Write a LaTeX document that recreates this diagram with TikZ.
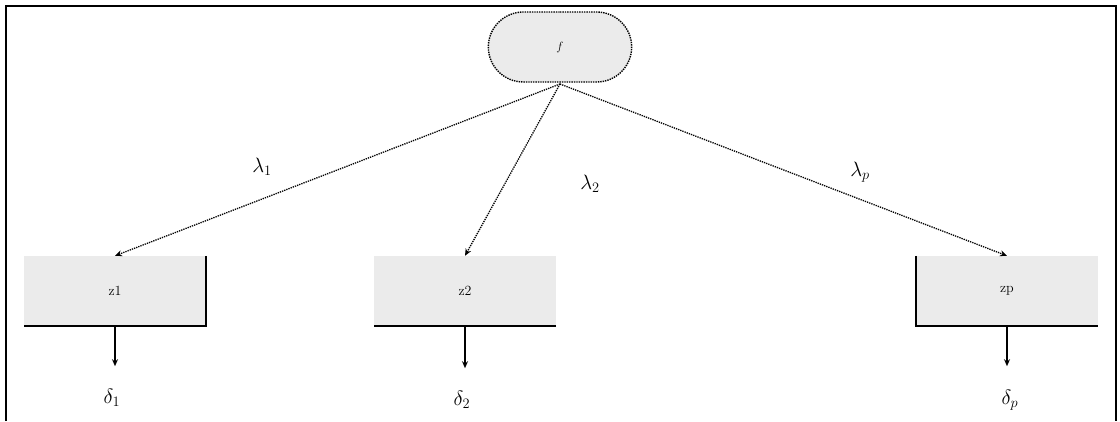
\documentclass[tikz,border=0pt]{standalone}
\usetikzlibrary{arrows.meta,shapes.misc}
\begin{document}
\begin{tikzpicture}[x=1pt,y=-1pt,
  frame/.style={line width=1.2pt},
  factor/.style={rounded rectangle, draw, densely dotted, line width=1.4pt, fill=black!8, minimum width=150pt, minimum height=70pt, font=\fontsize{12}{13}\selectfont},
  obsbox/.style={fill=black!8, minimum width=182pt, minimum height=70pt, inner sep=0pt, font=\fontsize{14}{15}\selectfont},
  load/.style={densely dotted, line width=1.3pt, -{Stealth[length=7pt,width=6pt]}},
  err/.style={line width=1.2pt, -{Stealth[length=7pt,width=6pt]}},
  lbl/.style={font=\fontsize{22}{24}\selectfont},
  edge/.style={line width=1.6pt}]
\useasboundingbox (0,0) rectangle (1120,421);
\draw[frame] (6,421) -- (6,6) -- (1116,6) -- (1116,421);

\node[factor] (f) at (560,47) {$f$};

\node[obsbox] (z1) at (115,291) {z1};
\node[obsbox] (z2) at (465,291) {z2};
\node[obsbox] (zp) at (1007,291) {zp};

\draw[edge] (z1.north east) -- (z1.south east) -- (z1.south west);
\draw[edge] (z2.south east) -- (z2.south west);
\draw[edge] (zp.north west) -- (zp.south west) -- (zp.south east);

\coordinate (fb) at (560,84);
\draw[load] (fb) -- (z1.north);
\draw[load] (fb) -- (z2.north);
\draw[load] (fb) -- (zp.north);

\node[lbl] (l1) at (262,167) {$\lambda_1$};
\node[lbl] (l2) at (590,184) {$\lambda_2$};
\node[lbl] (lp) at (860,172) {$\lambda_p$};

\node[lbl] (d1) at (112,398) {$\delta_1$};
\node[lbl] (d2) at (462,400) {$\delta_2$};
\node[lbl] (dp) at (1010,400) {$\delta_p$};

\draw[err] (z1.south) -- ++(0,40);
\draw[err] (z2.south) -- ++(0,42);
\draw[err] (zp.south) -- ++(0,40);
\end{tikzpicture}
\end{document}
